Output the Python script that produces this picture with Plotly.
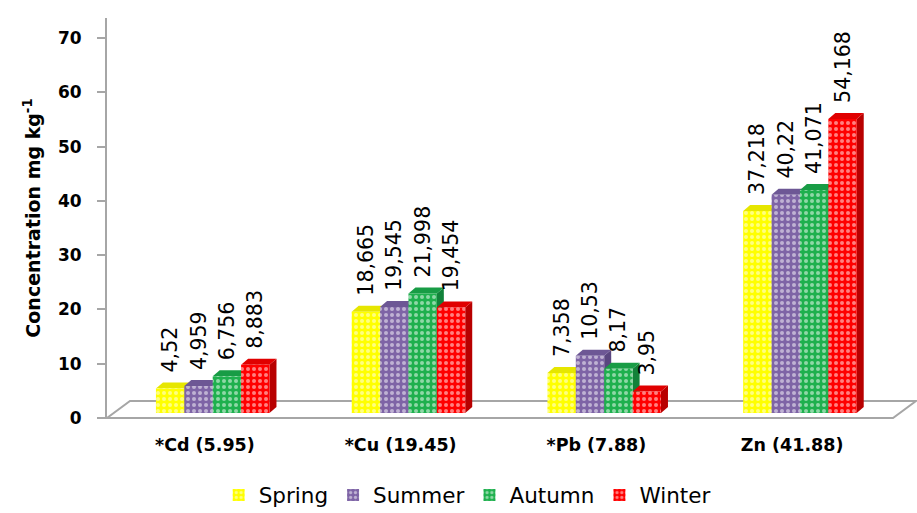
import plotly.graph_objects as go

# Heavy-metal concentrations by season (mg kg-1)
categories = ["*Cd (5.95)", "*Cu (19.45)", "*Pb (7.88)", "Zn (41.88)"]
seasons = ["Spring", "Summer", "Autumn", "Winter"]
spring = [4.52, 18.665, 7.358, 37.218]
summer = [4.959, 19.545, 10.53, 40.22]
autumn = [6.756, 21.998, 8.17, 41.071]
winter = [8.883, 19.454, 3.95, 54.168]
y_ticks = [0, 10, 20, 30, 40, 50, 60, 70]

series = [spring, summer, autumn, winter]
front_colors = ["#FFFF00", "#7E64A6", "#1FB04E", "#FF0000"]
side_colors = ["#C8C800", "#5A4680", "#12823A", "#B80000"]
top_colors = ["#E6E600", "#6D5795", "#189C45", "#E00000"]

W, H = 917, 513
M_L, M_R, M_T, M_B = 107, 27, 18, 95
plot_w = W - M_L - M_R
plot_h = H - M_T - M_B

x_range = [-0.5, 3.5]
px_per_x = plot_w / (x_range[1] - x_range[0])
tick_top = 73.68                   # visible axis: 0 at plot bottom
px_per_y = plot_h / tick_top
base_shift = 5 / px_per_y          # bars sit a little above the front floor edge
bar_range = [-base_shift, tick_top - base_shift]

bar_w = 0.145
group_shift = 0.04
dx = 7 / px_per_x                  # depth of the bar sides, in axis units
dy = 6 / px_per_y

FONT = "'DejaVu Sans', Verdana, sans-serif"
PAD = "\u00a0\u00a0"               # lifts value labels clear of the bar tops

fig = go.Figure()

side_shapes, top_shapes = [], []
for i, (name, vals) in enumerate(zip(seasons, series)):
    xs = [c + group_shift + (i - 1.5) * bar_w for c in range(len(categories))]
    labels = [PAD + str(v).replace(".", ",") for v in vals]
    fig.add_trace(go.Bar(
        x=xs, y=vals, width=bar_w, name=name,
        marker=dict(color=front_colors[i], line=dict(width=0),
                    pattern=dict(shape=".", fgcolor="white", bgcolor=front_colors[i],
                                 size=6, solidity=0.35)),
        text=labels, textposition="outside", textangle=-90,
        textfont=dict(family=FONT, size=20.5, color="black"),
        cliponaxis=False, constraintext="none",
        yaxis="y",
    ))
    for x, v in zip(xs, vals):
        xl, xr = x - bar_w / 2, x + bar_w / 2
        side_shapes.append(dict(
            type="path", xref="x", yref="y", layer="below", line=dict(width=0),
            fillcolor=side_colors[i],
            path=f"M{xr},0 L{xr+dx},{dy} L{xr+dx},{v+dy} L{xr},{v} Z"))
        top_shapes.append(dict(
            type="path", xref="x", yref="y", layer="below", line=dict(width=0),
            fillcolor=top_colors[i],
            path=f"M{xl},{v} L{xl+dx},{v+dy} L{xr+dx},{v+dy} L{xr},{v} Z"))

# floor of the chart
floor_dx0 = 23 / plot_w
floor_dx1 = 3 / plot_w
floor_dy = 17 / plot_h
floor = dict(type="path", xref="paper", yref="paper", layer="below",
             line=dict(color="#A6A6A6", width=2), fillcolor="white",
             path=(f"M0,0 L{1+floor_dx1},0 L{1+floor_dx1+floor_dx0},{floor_dy} "
                   f"L{floor_dx0},{floor_dy} Z"))

fig.update_layout(
    width=W, height=H,
    margin=dict(l=M_L, r=M_R, t=M_T, b=M_B, autoexpand=False),
    paper_bgcolor="white", plot_bgcolor="white",
    barmode="overlay",
    shapes=[floor] + side_shapes + top_shapes,
    xaxis=dict(range=x_range, tickmode="array", tickvals=list(range(len(categories))),
               ticktext=categories, showline=False, showgrid=False, zeroline=False,
               ticks="", ticklabelstandoff=14, automargin=False,
               tickfont=dict(family=FONT, size=17.5, color="black", weight="bold")),
    yaxis=dict(range=bar_range, visible=False, showgrid=False, zeroline=False,
               automargin=False),
    yaxis2=dict(range=[0, tick_top], overlaying="y", side="left", anchor="x",
                tickmode="array", tickvals=y_ticks, automargin=False,
                showline=True, linecolor="#A6A6A6", linewidth=2,
                ticks="outside", ticklen=8, tickcolor="#A6A6A6", tickwidth=2,
                showgrid=False, zeroline=False, ticklabelstandoff=12,
                tickfont=dict(family=FONT, size=17, color="black", weight="bold"),
                title=dict(text="Concentration mg kg<sup>-1</sup>", standoff=12,
                           font=dict(family=FONT, size=19, color="black", weight="bold"))),
    legend=dict(orientation="h", x=0.46, xanchor="center",
                yref="container", y=0.035, yanchor="middle",
                font=dict(family=FONT, size=21.5, color="black"),
                itemwidth=30, traceorder="normal"),
    showlegend=True,
)

# empty trace so the visible axis is drawn
fig.add_trace(go.Scatter(x=[None], y=[None], yaxis="y2", showlegend=False, hoverinfo="skip"))

fig.write_html("out.html")
